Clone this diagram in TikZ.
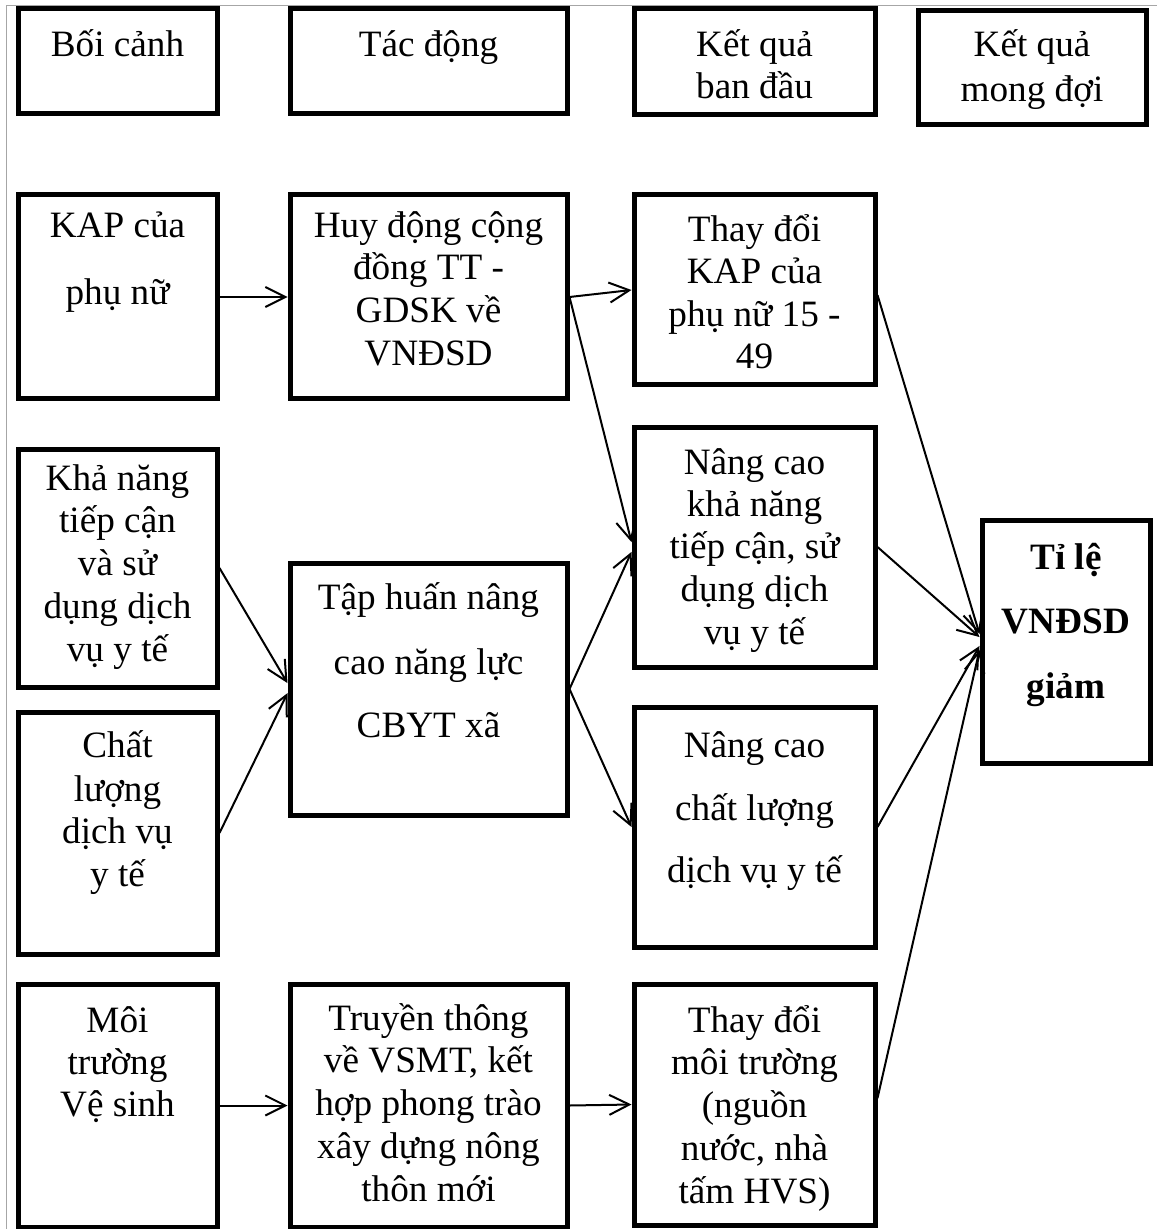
\documentclass[tikz,border=0pt]{standalone}
\usepackage{fontspec}
\setmainfont{Liberation Serif}
\usetikzlibrary{arrows.meta,calc}
\tikzset{
  boxx/.style={draw, line width=2.5pt, inner sep=0pt, rectangle},
  txt/.style={anchor=base, inner sep=0pt, font=\fontsize{18.6pt}{21pt}\selectfont},
  btxt/.style={anchor=base, inner sep=0pt, font=\fontsize{18.6pt}{21pt}\selectfont\bfseries},
  conn/.style={line width=1pt, -{Straight Barb[length=10pt,width=10pt]}},
  frameline/.style={draw=black!35, line width=0.5pt}
}
\newcommand\mkbox[5]{\node[boxx, minimum width={0.5pt*(#4-#2)}, minimum height={0.5pt*(#5-#3)}] (#1) at ({(#2+#4)/2},{(#3+#5)/2}) {};}
\newcommand\tl[4]{\node[txt] (#1) at (#2,#3) {#4};}
\newcommand\tb[4]{\node[btxt] (#1) at (#2,#3) {#4};}
\begin{document}
\begin{tikzpicture}[x=0.5pt,y=-0.5pt]
\useasboundingbox (0,0) rectangle (1157,1229);
\fill[white] (0,0) rectangle (1157,1229);
\draw[frameline] (6,1229) -- (6,6) -- (1157,6);

% header boxes
\mkbox{h1}{18}{9}{217}{114}
\mkbox{h2}{290}{9}{567}{114}
\mkbox{h3}{634}{9}{875}{115}
\mkbox{h4}{918}{11}{1146}{125}
% row boxes
\mkbox{a1}{18}{195}{217}{399}
\mkbox{b1}{290}{195}{567}{399}
\mkbox{c1}{634}{195}{875}{385}
\mkbox{a2}{18}{449}{217}{687}
\mkbox{c2}{634}{427}{875}{667}
\mkbox{b2}{290}{563}{567}{815}
\mkbox{a3}{18}{712}{217}{954}
\mkbox{c3}{634}{707}{875}{947}
\mkbox{d}{982}{520}{1150}{763}
\mkbox{a4}{18}{984}{217}{1227}
\mkbox{b4}{290}{984}{567}{1227}
\mkbox{c4}{634}{984}{875}{1225}

% texts
\tl{h1t}{117.5}{57}{Bối cảnh}
\tl{h2t}{428.5}{57}{Tác động}
\tl{h3t1}{754.5}{57}{Kết quả}
\tl{h3t2}{754.5}{99}{ban đầu}
\tl{h4t1}{1032}{57}{Kết quả}
\tl{h4t2}{1032}{102}{mong đợi}

\tl{a1t1}{117.5}{238}{KAP của}
\tl{a1t2}{117.5}{305}{phụ nữ}

\tl{b1t1}{428.5}{238}{Huy động cộng}
\tl{b1t2}{428.5}{280}{đồng TT -}
\tl{b1t3}{428.5}{323}{GDSK về}
\tl{b1t4}{428.5}{365}{VNĐSD}

\tl{c1t1}{754.5}{242}{Thay đổi}
\tl{c1t2}{754.5}{284}{KAP của}
\tl{c1t3}{754.5}{327}{phụ nữ 15 -}
\tl{c1t4}{754.5}{369}{49}

\tl{a2t1}{117.5}{490}{Khả năng}
\tl{a2t2}{117.5}{532}{tiếp cận}
\tl{a2t3}{117.5}{575}{và sử}
\tl{a2t4}{117.5}{618}{dụng dịch}
\tl{a2t5}{117.5}{661}{vụ y tế}

\tl{c2t1}{754.5}{474}{Nâng cao}
\tl{c2t2}{754.5}{516}{khả năng}
\tl{c2t3}{754.5}{558}{tiếp cận, sử}
\tl{c2t4}{754.5}{601}{dụng dịch}
\tl{c2t5}{754.5}{644}{vụ y tế}

\tl{b2t1}{428.5}{609}{Tập huấn nâng}
\tl{b2t2}{428.5}{674}{cao năng lực}
\tl{b2t3}{428.5}{737}{CBYT xã}

\tl{a3t1}{117.5}{757}{Chất}
\tl{a3t2}{117.5}{801}{lượng}
\tl{a3t3}{117.5}{843}{dịch vụ}
\tl{a3t4}{117.5}{886}{y tế}

\tl{c3t1}{754.5}{757}{Nâng cao}
\tl{c3t2}{754.5}{820}{chất lượng}
\tl{c3t3}{754.5}{882}{dịch vụ y tế}

\tb{dt1}{1066}{569}{Tỉ lệ}
\tb{dt2}{1066}{633}{VNĐSD}
\tb{dt3}{1066}{698}{giảm}

\tl{a4t1}{117.5}{1032}{Môi}
\tl{a4t2}{117.5}{1074}{trường}
\tl{a4t3}{117.5}{1116}{Vệ sinh}

\tl{b4t1}{428.5}{1030}{Truyền thông}
\tl{b4t2}{428.5}{1072}{về VSMT, kết}
\tl{b4t3}{428.5}{1115}{hợp phong trào}
\tl{b4t4}{428.5}{1158}{xây dựng nông}
\tl{b4t5}{428.5}{1201}{thôn mới}

\tl{c4t1}{754.5}{1032}{Thay đổi}
\tl{c4t2}{754.5}{1074}{môi trường}
\tl{c4t3}{754.5}{1117}{(nguồn}
\tl{c4t4}{754.5}{1160}{nước, nhà}
\tl{c4t5}{754.5}{1203}{tấm HVS)}

% connectors
\draw[conn] (a1.east) -- (b1.west);
\draw[conn] (b1.east) -- (c1.west);
\draw[conn] (b1.east) -- ($(c2.north west)!0.48!(c2.south west)$);
\draw[conn] (a2.east) -- ($(b2.north west)!0.477!(b2.south west)$);
\draw[conn] (a3.east) -- ($(b2.north west)!0.516!(b2.south west)$);
\draw[conn] (b2.east) -- ($(c2.north west)!0.52!(c2.south west)$);
\draw[conn] (b2.east) -- (c3.west);
\draw[conn] ($(c1.north east)!0.526!(c1.south east)$) -- ($(d.north west)!0.47!(d.south west)$);
\draw[conn] (c2.east) -- ($(d.north west)!0.482!(d.south west)$);
\draw[conn] (c3.east) -- ($(d.north west)!0.518!(d.south west)$);
\draw[conn] ($(c4.north east)!0.474!(c4.south east)$) -- ($(d.north west)!0.534!(d.south west)$);
\draw[conn] (a4.east) -- (b4.west);
\draw[conn] (b4.east) -- (c4.west);
\end{tikzpicture}
\end{document}
